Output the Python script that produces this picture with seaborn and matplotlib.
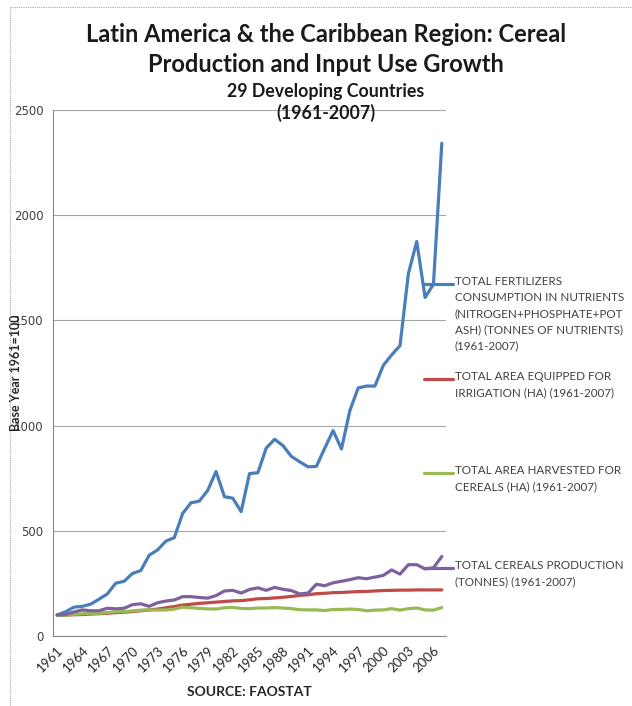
import numpy as np
import pandas as pd
import matplotlib
matplotlib.use("Agg")
import matplotlib.pyplot as plt
import seaborn as sns
from matplotlib.lines import Line2D
from matplotlib.patches import Rectangle

# index values, base year 1961 = 100
years = list(range(1961, 2008))

fertilizers = [100, 115, 137, 141, 151, 175, 200, 251, 260, 297,
               311, 384, 409, 451, 467, 582, 633, 641, 692, 782,
               662, 655, 591, 772, 776, 893, 935, 905, 854, 828,
               804, 806, 893, 976, 889, 1071, 1179, 1188, 1188, 1286,
               1336, 1380, 1722, 1875, 1609, 1672, 2342]

irrigation = [100, 100, 101, 102, 104, 106, 108, 111, 113, 116,
              120, 124, 128, 134, 140, 147, 151, 155, 158, 161,
              164, 167, 168, 172, 177, 178, 181, 184, 188, 193,
              196, 201, 203, 206, 207, 209, 211, 212, 214, 216,
              217, 218, 218, 219, 219, 219, 219]

harvested = [100, 98, 103, 106, 107, 108, 112, 115, 116, 119,
             123, 124, 123, 124, 128, 137, 134, 131, 129, 128,
             134, 136, 131, 130, 133, 133, 135, 133, 130, 125,
             124, 124, 121, 126, 126, 128, 126, 120, 123, 124,
             130, 123, 130, 133, 124, 123, 135]

production = [100, 102, 114, 124, 120, 120, 132, 129, 132, 149,
              153, 141, 158, 166, 171, 187, 187, 183, 180, 192,
              214, 217, 204, 221, 229, 217, 231, 222, 216, 200,
              204, 246, 239, 253, 260, 268, 277, 272, 280, 288,
              314, 294, 339, 339, 319, 324, 378]

series_names = [
    "TOTAL FERTILIZERS\nCONSUMPTION IN NUTRIENTS\n(NITROGEN+PHOSPHATE+POT\nASH) (TONNES OF NUTRIENTS)\n(1961-2007)",
    "TOTAL AREA EQUIPPED FOR\nIRRIGATION (HA) (1961-2007)",
    "TOTAL AREA HARVESTED FOR\nCEREALS (HA) (1961-2007)",
    "TOTAL CEREALS PRODUCTION\n(TONNES) (1961-2007)",
]
colors = ["#4A7EBB", "#BE4B48", "#98B954", "#7D60A0"]

df = pd.DataFrame({"Year": years,
                   series_names[0]: fertilizers,
                   series_names[1]: irrigation,
                   series_names[2]: harvested,
                   series_names[3]: production})
df = df.melt(id_vars="Year", var_name="series", value_name="value")
df["pos"] = df["Year"] - years[0]

sns.set_theme(style="white")
plt.rcParams["font.family"] = ["Lato", "DejaVu Sans"]

fig = plt.figure(figsize=(6.32, 7.06), dpi=100)
ax = fig.add_axes([53 / 632, 1 - 636 / 706, 393 / 632, 526 / 706])

sns.lineplot(data=df, x="pos", y="value", hue="series", hue_order=series_names,
             palette=colors, linewidth=2.3, legend=False, ax=ax)

ax.set_xlim(-0.5, len(years) - 0.5)
ax.set_ylim(0, 2500)
ax.set_yticks(np.arange(0, 2501, 500))
ax.set_yticklabels([str(v) for v in range(0, 2501, 500)], family="DejaVu Sans",
                   fontsize=8.5, color="#404040")
ax.yaxis.grid(True, color="#A6A6A6", linewidth=0.8)
ax.set_axisbelow(True)

tick_pos = list(range(0, len(years), 3))
ax.set_xticks(tick_pos)
ax.set_xticklabels([str(years[i]) for i in tick_pos], rotation=45, ha="right",
                   rotation_mode="anchor", fontsize=9.5, color="#262626")
ax.set_xticks(np.arange(-0.5, len(years), 1), minor=True)
ax.tick_params(axis="x", which="major", length=0, pad=6)
ax.tick_params(axis="x", which="minor", length=4, color="#868686", width=0.8)
ax.tick_params(axis="y", length=4, color="#868686", width=0.8, pad=3)

for s in ["top", "right"]:
    ax.spines[s].set_visible(False)
for s in ["left", "bottom"]:
    ax.spines[s].set_color("#868686")
    ax.spines[s].set_linewidth(0.8)

ax.set_ylabel("Base Year 1961=100", fontsize=9, fontweight="bold", color="#262626")
ax.yaxis.set_label_coords(-0.079, 0.5)
ax.set_xlabel("SOURCE: FAOSTAT", fontsize=10, fontweight="bold", color="#262626")
ax.xaxis.set_label_coords(0.5, -0.095)

# titles
fig.text(326 / 632, 1 - 35 / 706, "Latin America & the Caribbean Region: Cereal",
         ha="center", va="center", fontsize=17, fontweight="bold", color="#1a1a1a")
fig.text(326 / 632, 1 - 65 / 706, "Production and Input Use Growth",
         ha="center", va="center", fontsize=17, fontweight="bold", color="#1a1a1a")
fig.text(326 / 632, 1 - 92 / 706, "29 Developing Countries",
         ha="center", va="center", fontsize=12.8, fontweight="bold", color="#1a1a1a")
fig.text(326 / 632, 1 - 113 / 706, "(1961-2007)",
         ha="center", va="center", fontsize=12.8, fontweight="bold", color="#1a1a1a")

# legend, Excel style: key line level with the first text line
legend_y = [284, 379, 473, 568]
for name, col, yy in zip(series_names, colors, legend_y):
    fig.add_artist(Line2D([424 / 632, 453 / 632], [1 - yy / 706] * 2,
                          transform=fig.transFigure, color=col, linewidth=2.3))
    fig.text(455 / 632, 1 - (yy - 8) / 706, name, ha="left", va="top",
             fontsize=8.4, color="#404040", linespacing=1.55)

# chart area border
fig.add_artist(Rectangle((10 / 632, -0.1), 1.2, (706 - 7) / 706 + 0.1,
                         transform=fig.transFigure, fill=False,
                         edgecolor="#A6A6A6", linewidth=0.8, linestyle=(0, (1, 1))))

fig.savefig("out.png", dpi=100)
